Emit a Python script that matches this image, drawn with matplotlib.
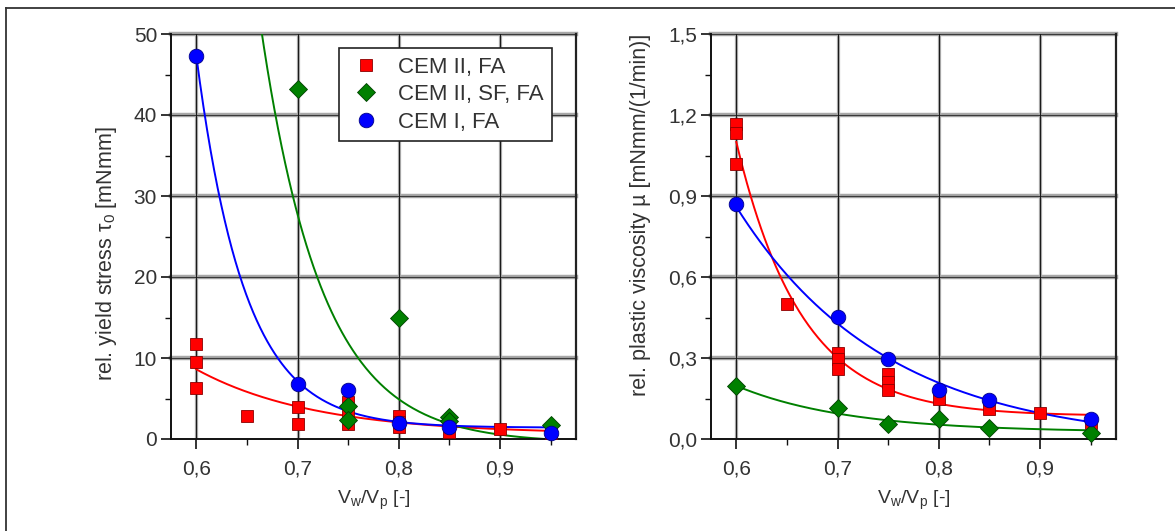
import numpy as np
import matplotlib
matplotlib.use('Agg')
import matplotlib.pyplot as plt
from matplotlib.ticker import MultipleLocator, FuncFormatter, FixedLocator
from matplotlib.lines import Line2D

plt.rcParams['font.family'] = ['Liberation Sans', 'DejaVu Sans']
plt.rcParams['mathtext.fontset'] = 'custom'
plt.rcParams['mathtext.rm'] = 'Liberation Sans'
plt.rcParams['mathtext.it'] = 'Liberation Sans:italic'

# ---------------- data ----------------
series_labels = ['CEM II, FA', 'CEM II, SF, FA', 'CEM I, FA']
series_colors = ['#ff0000', '#008000', '#0000ff']
series_edges = ['#8b0000', '#004000', '#00008b']
series_markers = ['s', 'D', 'o']

# left: relative yield stress
yield_fa_x = [0.6, 0.6, 0.6, 0.65, 0.7, 0.7, 0.75, 0.75, 0.75, 0.8, 0.8, 0.8, 0.85, 0.9, 0.95]
yield_fa_y = [11.7, 9.5, 6.3, 2.9, 3.9, 1.9, 4.6, 3.2, 1.8, 2.8, 2.1, 1.5, 0.9, 1.2, 0.8]
yield_sf_x = [0.7, 0.75, 0.75, 0.8, 0.85, 0.85, 0.95]
yield_sf_y = [43.2, 4.1, 2.3, 14.9, 2.7, 2.2, 1.7]
yield_c1_x = [0.6, 0.7, 0.75, 0.8, 0.85, 0.95]
yield_c1_y = [47.3, 6.8, 6.0, 2.0, 1.5, 0.8]

# right: relative plastic viscosity
visc_fa_x = [0.6, 0.6, 0.6, 0.65, 0.7, 0.7, 0.7, 0.75, 0.75, 0.75, 0.8, 0.85, 0.9, 0.95]
visc_fa_y = [1.165, 1.135, 1.02, 0.50, 0.32, 0.295, 0.26, 0.24, 0.21, 0.18, 0.15, 0.11, 0.095, 0.06]
visc_sf_x = [0.6, 0.7, 0.75, 0.8, 0.85, 0.95]
visc_sf_y = [0.197, 0.113, 0.055, 0.073, 0.04, 0.023]
visc_c1_x = [0.6, 0.7, 0.75, 0.8, 0.85, 0.95]
visc_c1_y = [0.87, 0.453, 0.296, 0.182, 0.143, 0.073]

# exponential decay fits (y0, A, t):  y = y0 + A*exp(-(x-0.6)/t)
yield_fits = [(0.6, 8.0, 0.117), (-0.5, 147.4, 0.0605), (1.4, 45.9, 0.048)]
visc_fits = [(0.085, 1.015, 0.0645), (0.025, 0.172, 0.11), (-0.02, 0.88, 0.148)]
fit_range = (0.6, 0.95)

x_ticks = [0.6, 0.7, 0.8, 0.9]
yield_ticks = [0, 10, 20, 30, 40, 50]
visc_ticks = [0.0, 0.3, 0.6, 0.9, 1.2, 1.5]

# ---------------- figure ----------------
fig = plt.figure(figsize=(11.75, 5.31), dpi=100)
W, H = 1175, 531

def px_axes(x0, y0, x1, y1):
    return fig.add_axes([x0 / W, 1 - y1 / H, (x1 - x0) / W, (y1 - y0) / H])

axL = px_axes(171, 34, 576, 439)
axR = px_axes(711, 34, 1116, 439)

# outer frame (top and left only)
fig.add_artist(Line2D([6 / W, 6 / W], [0, 1 - 8 / H], color='#333333', lw=1.3))
fig.add_artist(Line2D([6 / W, 1], [1 - 8 / H, 1 - 8 / H], color='#333333', lw=1.3))

TICK_FS = 15

def style_axes(ax, yticks, ylim, yminor, fmt):
    ax.set_xlim(0.575, 0.975)
    ax.set_ylim(*ylim)
    ax.xaxis.set_major_locator(FixedLocator(x_ticks))
    ax.xaxis.set_minor_locator(FixedLocator([0.65, 0.75, 0.85, 0.95]))
    ax.yaxis.set_major_locator(FixedLocator(yticks))
    ax.yaxis.set_minor_locator(MultipleLocator(yminor))
    ax.xaxis.set_major_formatter(FuncFormatter(lambda v, p: f'{v:.1f}'.replace('.', ',')))
    ax.yaxis.set_major_formatter(FuncFormatter(fmt))
    ax.tick_params(which='major', direction='out', length=7, width=1.2,
                   labelsize=TICK_FS, colors='#111111', labelcolor='#333333', pad=3)
    ax.tick_params(which='minor', direction='out', length=4, width=1.0, colors='#111111')
    ax.tick_params(axis='x', which='major', pad=8)
    # grid: horizontal thick grey bands with dark core, vertical dark lines
    for y in yticks[1:]:
        ax.axhline(y, color='#a8a8a8', lw=3.2, zorder=0.5, clip_on=False)
        ax.axhline(y, color='#3a3a3a', lw=0.8, zorder=0.6, clip_on=False)
    for x in x_ticks:
        ax.axvline(x, color='#c8c8c8', lw=2.4, zorder=0.5)
        ax.axvline(x, color='#1a1a1a', lw=1.0, zorder=0.6)
    ax.spines['top'].set_visible(False)
    ax.spines['right'].set_color('#222222')
    ax.spines['right'].set_linewidth(1.6)
    ax.spines['left'].set_color('#111111')
    ax.spines['left'].set_linewidth(1.4)
    ax.spines['bottom'].set_color('#111111')
    ax.spines['bottom'].set_linewidth(1.4)
    ax.set_xlabel(r'V$_\mathregular{w}$/V$_\mathregular{p}$ [-]', fontsize=14,
                  color='#333333')
    ax.xaxis.set_label_coords(0.5, -0.122)

style_axes(axL, yield_ticks, (0, 50), 5, lambda v, p: f'{v:.0f}')
style_axes(axR, visc_ticks, (0, 1.5), 0.15, lambda v, p: f'{v:.1f}'.replace('.', ','))

axL.set_ylabel(r'rel. yield stress τ$_\mathregular{0}$ [mNmm]', fontsize=15.5,
               color='#333333', ha='center', va='center')
axL.yaxis.set_label_coords(-0.16, 0.457)
axR.set_ylabel('rel. plastic viscosity µ [mNmm/(1/min)]', fontsize=15.5,
               color='#333333', ha='center', va='center')
axR.yaxis.set_label_coords(-0.175, 0.553)

xx = np.linspace(fit_range[0], fit_range[1], 300)

def plot_panel(ax, data, fits):
    for i in range(3):
        y0, A, t = fits[i]
        ax.plot(xx, y0 + A * np.exp(-(xx - 0.6) / t), color=series_colors[i],
                lw=1.4, zorder=2)
    sizes = [9, 9.5, 10.5]
    for i in range(3):
        ax.plot(data[i][0], data[i][1], ls='none', marker=series_markers[i],
                ms=sizes[i], mfc=series_colors[i], mec=series_edges[i], mew=0.6,
                label=series_labels[i], zorder=3 + i, clip_on=False)

plot_panel(axL, [(yield_fa_x, yield_fa_y), (yield_sf_x, yield_sf_y), (yield_c1_x, yield_c1_y)], yield_fits)
plot_panel(axR, [(visc_fa_x, visc_fa_y), (visc_sf_x, visc_sf_y), (visc_c1_x, visc_c1_y)], visc_fits)

leg = axL.legend(loc='upper left', bbox_to_anchor=(0.415, 0.965), fontsize=16,
                 frameon=True, fancybox=False, shadow=False, borderpad=0.38,
                 handlelength=1.65, handletextpad=0.6, labelspacing=0.29,
                 borderaxespad=0, markerscale=1.0)
leg.get_frame().set_edgecolor('#222222')
leg.get_frame().set_linewidth(1.2)
leg.get_frame().set_alpha(1)
for txt in leg.get_texts():
    txt.set_color('#333333')

fig.savefig('out.png', dpi=100)
